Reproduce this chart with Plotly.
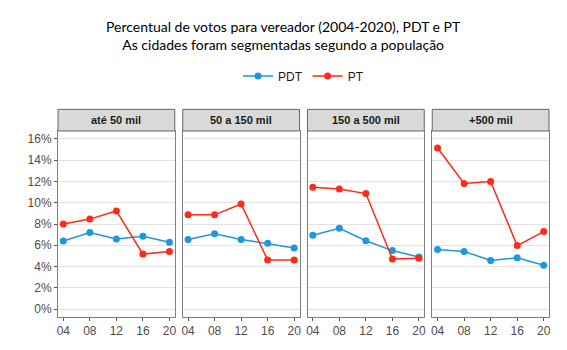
import plotly.graph_objects as go
from plotly.subplots import make_subplots

years = [4, 8, 12, 16, 20]
year_labels = ["04", "08", "12", "16", "20"]
panels = ["até 50 mil", "50 a 150 mil", "150 a 500 mil", "+500 mil"]
pdt = [
    [6.4, 7.2, 6.6, 6.85, 6.28],
    [6.55, 7.08, 6.55, 6.18, 5.75],
    [6.95, 7.6, 6.43, 5.5, 4.9],
    [5.6, 5.42, 4.58, 4.83, 4.12],
]
pt = [
    [8.0, 8.46, 9.23, 5.17, 5.42],
    [8.86, 8.86, 9.88, 4.62, 4.62],
    [11.45, 11.3, 10.86, 4.7, 4.77],
    [15.14, 11.8, 12.0, 5.97, 7.29],
]
y_ticks = [0, 2, 4, 6, 8, 10, 12, 14, 16]
y_labels = ["0%", "2%", "4%", "6%", "8%", "10%", "12%", "14%", "16%"]

PDT_COLOR = "#1E97DD"
PT_COLOR = "#FF2A17"

W, H = 567, 350
L, R, T, B = 58, 18, 131, 30
plot_w = W - L - R
gap = 8
fig = make_subplots(rows=1, cols=4, shared_yaxes=True,
                    horizontal_spacing=gap / plot_w)

for i in range(4):
    fig.add_trace(go.Scatter(x=years, y=pdt[i], mode="lines+markers", name="PDT",
                             line=dict(color=PDT_COLOR, width=1.5),
                             marker=dict(color=PDT_COLOR, size=7),
                             showlegend=(i == 0), legendgroup="PDT"), row=1, col=i + 1)
    fig.add_trace(go.Scatter(x=years, y=pt[i], mode="lines+markers", name="PT",
                             line=dict(color=PT_COLOR, width=1.5),
                             marker=dict(color=PT_COLOR, size=7),
                             showlegend=(i == 0), legendgroup="PT"), row=1, col=i + 1)

axis_font = dict(family="Liberation Sans, Arial, sans-serif", size=12, color="#4d4d4d")
for i in range(4):
    fig.update_xaxes(row=1, col=i + 1, range=[3.2, 20.8], tickvals=years, ticktext=year_labels,
                     showgrid=False, zeroline=False, showline=True, mirror=True,
                     linecolor="#7f7f7f", linewidth=1, ticks="outside", ticklen=3,
                     tickcolor="#555555", tickfont=axis_font)
    fig.update_yaxes(row=1, col=i + 1, range=[-0.74, 16.74], tickmode="array",
                     tickvals=y_ticks, ticktext=y_labels,
                     showgrid=True, gridcolor="#e3e3e3", gridwidth=1.2,
                     zeroline=False, showline=True, mirror=True, linecolor="#7f7f7f",
                     linewidth=1, ticks="outside" if i == 0 else "", ticklen=3,
                     tickcolor="#555555", tickfont=axis_font, showticklabels=(i == 0))

strip_h = 22 / (H - T - B)
for i in range(4):
    xa = fig.layout["xaxis" if i == 0 else f"xaxis{i + 1}"]
    x0, x1 = xa.domain
    fig.add_shape(type="rect", xref="paper", yref="paper", x0=x0, x1=x1, y0=1.0, y1=1 + strip_h,
                  fillcolor="#d9d9d9", line=dict(color="#666666", width=1))
    fig.add_annotation(xref="paper", yref="paper", x=(x0 + x1) / 2, y=1 + strip_h / 2,
                       text=f"<b>{panels[i]}</b>", showarrow=False, yanchor="middle",
                       xanchor="center",
                       font=dict(family="Liberation Sans, Arial, sans-serif", size=11, color="#1a1a1a"))

fig.add_annotation(xref="paper", yref="paper", x=(W / 2 - L) / plot_w, y=1 + (T - 34) / (H - T - B),
                   text="Percentual de votos para vereador (2004-2020), PDT e PT<br>As cidades foram segmentadas segundo a população",
                   showarrow=False, yanchor="middle", xanchor="center",
                   font=dict(family="Lato, sans-serif", size=14, color="#000000"))

fig.update_layout(
    width=W, height=H,
    margin=dict(l=L, r=R, t=T, b=B),
    paper_bgcolor="white", plot_bgcolor="white",
    showlegend=True,
    legend=dict(orientation="h", x=0.5, xanchor="center", y=1 + (T - 75) / (H - T - B),
                yanchor="middle", font=dict(family="Liberation Sans, Arial, sans-serif", size=12,
                                            color="#1a1a1a"),
                bgcolor="rgba(0,0,0,0)"),
)

fig.write_html("out.html")
